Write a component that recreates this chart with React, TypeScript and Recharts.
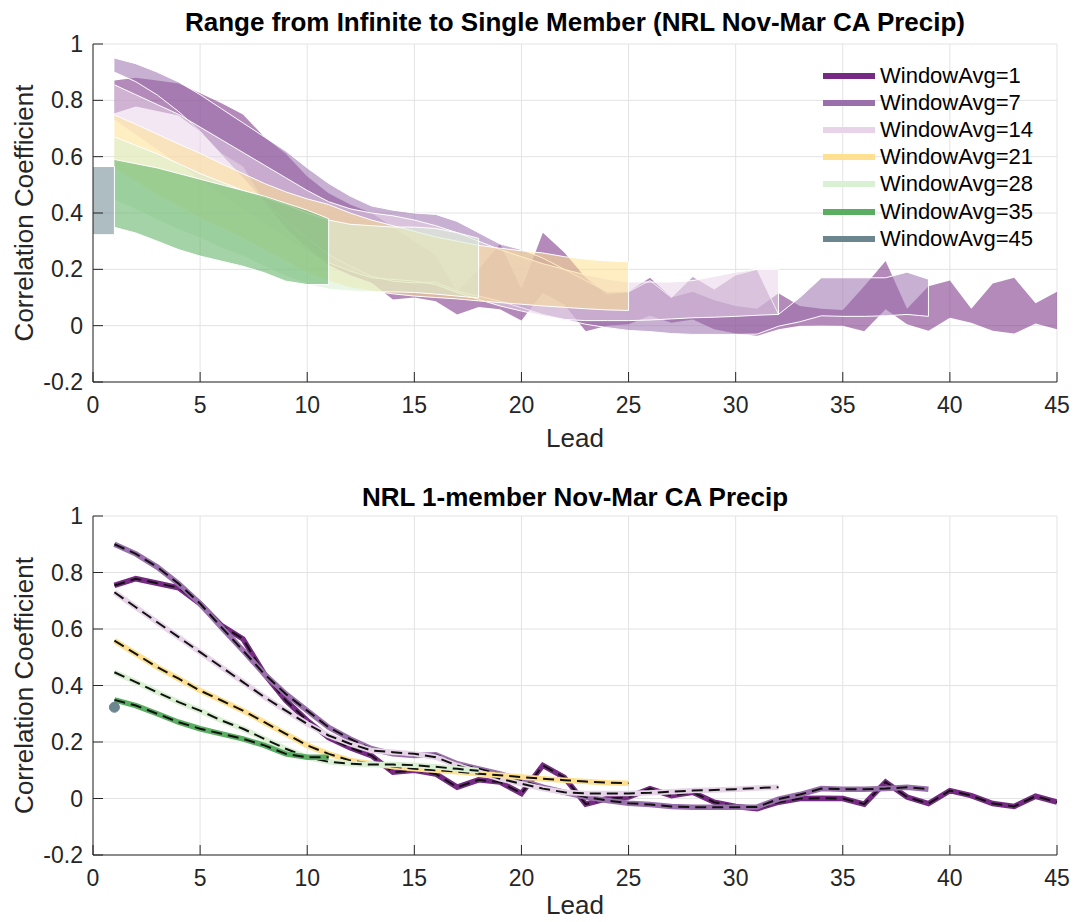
import React from 'react';
import {
  ComposedChart,
  Area,
  Line,
  XAxis,
  YAxis,
  CartesianGrid,
  ReferenceLine,
  Label,
} from 'recharts';

// lead axis
const leadTicks = [0, 5, 10, 15, 20, 25, 30, 35, 40, 45];
const corrTicks = [-0.2, 0, 0.2, 0.4, 0.6, 0.8, 1];

// single-member correlation, starting at lead 1
const single1 = [0.754, 0.778, 0.762, 0.746, 0.689, 0.612, 0.565, 0.441, 0.347, 0.276,
  0.215, 0.18, 0.152, 0.093, 0.1, 0.087, 0.04, 0.066, 0.058, 0.018,
  0.117, 0.075, -0.02, 0.0, 0.005, 0.035, 0.01, 0.022, -0.013, -0.028,
  -0.036, -0.013, 0.0, 0.001, 0.0, -0.02, 0.058, 0.005, -0.018, 0.028,
  0.01, -0.018, -0.028, 0.008, -0.013];
const single7 = [0.9, 0.866, 0.819, 0.76, 0.69, 0.606, 0.524, 0.44, 0.37, 0.311,
  0.252, 0.211, 0.176, 0.158, 0.152, 0.155, 0.123, 0.105, 0.087, 0.064,
  0.04, 0.022, 0.005, -0.007, -0.017, -0.021, -0.028, -0.031, -0.031, -0.031,
  -0.03, -0.002, 0.014, 0.035, 0.033, 0.033, 0.035, 0.04, 0.033];
const single14 = [0.73, 0.677, 0.624, 0.571, 0.518, 0.465, 0.412, 0.359, 0.311, 0.264,
  0.223, 0.194, 0.17, 0.164, 0.158, 0.146, 0.117, 0.093, 0.07, 0.052,
  0.035, 0.022, 0.018, 0.018, 0.018, 0.02, 0.024, 0.028, 0.03, 0.033,
  0.037, 0.04];
const single21 = [0.559, 0.512, 0.465, 0.424, 0.382, 0.347, 0.311, 0.27, 0.229, 0.188,
  0.158, 0.135, 0.123, 0.113, 0.105, 0.1, 0.095, 0.088, 0.082, 0.076,
  0.07, 0.065, 0.06, 0.056, 0.054];
const single28 = [0.447, 0.412, 0.376, 0.341, 0.311, 0.276, 0.247, 0.211, 0.176, 0.146,
  0.13, 0.123, 0.12, 0.12, 0.118, 0.112, 0.105, 0.098];
const single35 = [0.349, 0.329, 0.3, 0.27, 0.247, 0.229, 0.211, 0.188, 0.158, 0.146, 0.146];
const single45 = [0.323];

// infinite-ensemble correlation, starting at lead 1
const infinite1 = [0.87, 0.88, 0.87, 0.86, 0.825, 0.79, 0.75, 0.67, 0.61, 0.53,
  0.47, 0.43, 0.4, 0.35, 0.3, 0.25, 0.12, 0.2, 0.29, 0.13,
  0.33, 0.26, 0.17, 0.11, 0.12, 0.17, 0.1, 0.12, 0.09, 0.07,
  0.06, 0.115, 0.07, 0.06, 0.056, 0.14, 0.23, 0.06, 0.14, 0.16,
  0.06, 0.15, 0.17, 0.08, 0.12];
const infinite7 = [0.95, 0.93, 0.9, 0.865, 0.82, 0.77, 0.72, 0.67, 0.62, 0.56,
  0.505, 0.46, 0.425, 0.41, 0.4, 0.395, 0.37, 0.33, 0.29, 0.27,
  0.24, 0.2, 0.16, 0.12, 0.12, 0.16, 0.1, 0.175, 0.13, 0.18,
  0.2, 0.04, 0.1, 0.17, 0.17, 0.17, 0.17, 0.19, 0.165];
const infinite14 = [0.855, 0.82, 0.785, 0.75, 0.705, 0.66, 0.615, 0.57, 0.525, 0.48,
  0.44, 0.415, 0.4, 0.39, 0.375, 0.355, 0.33, 0.3, 0.27, 0.245,
  0.22, 0.2, 0.18, 0.165, 0.155, 0.155, 0.155, 0.16, 0.175, 0.19,
  0.2, 0.2];
const infinite21 = [0.748, 0.715, 0.68, 0.645, 0.612, 0.575, 0.54, 0.505, 0.475, 0.45,
  0.43, 0.4, 0.375, 0.355, 0.335, 0.315, 0.3, 0.285, 0.275, 0.266,
  0.258, 0.245, 0.236, 0.23, 0.227];
const infinite28 = [0.67, 0.64, 0.61, 0.575, 0.54, 0.51, 0.48, 0.455, 0.43, 0.4,
  0.375, 0.36, 0.355, 0.35, 0.35, 0.345, 0.33, 0.31];
const infinite35 = [0.59, 0.575, 0.56, 0.54, 0.52, 0.5, 0.48, 0.46, 0.435, 0.41, 0.38];
const infinite45 = [0.565];

const series = [
  { w: 1, color: '#762a83', single: single1, infinite: infinite1, edge: false },
  { w: 7, color: '#9970ab', single: single7, infinite: infinite7, edge: true },
  { w: 14, color: '#e7d4e8', single: single14, infinite: infinite14, edge: true },
  { w: 21, color: '#fee090', single: single21, infinite: infinite21, edge: true },
  { w: 28, color: '#d9f0d3', single: single28, infinite: infinite28, edge: true },
  { w: 35, color: '#5aae61', single: single35, infinite: infinite35, edge: true },
  { w: 45, color: '#6b868e', single: single45, infinite: infinite45, edge: true },
];

const data = Array.from({ length: 46 }, (_, lead) => {
  const row: any = { lead };
  series.forEach((s) => {
    const i = lead - 1;
    if (i >= 0 && i < s.single.length) {
      row[`s${s.w}`] = s.single[i];
      row[`b${s.w}`] = [s.single[i], s.infinite[i]];
    }
    // single-lead window is drawn as a block from lead 0
    if (lead === 0 && s.single.length === 1) {
      row[`b${s.w}`] = [s.single[0], s.infinite[0]];
    }
  });
  return row;
});

const font = '"Liberation Sans", Arial, Helvetica, sans-serif';
const axisColor = '#262626';
const tickStyle = { fontSize: 23, fill: axisColor };

const axes = (labelOffset: number) => [
  <CartesianGrid key="grid" stroke="#e3e3e3" />,
  <XAxis
    key="x"
    dataKey="lead"
    type="number"
    domain={[0, 45]}
    ticks={leadTicks}
    allowDataOverflow
    height={66}
    tickSize={-10}
    tickMargin={25}
    tick={tickStyle}
    stroke={axisColor}
  >
    <Label value="Lead" position="insideBottom" offset={labelOffset} style={{ fontSize: 26, fill: axisColor }} />
  </XAxis>,
  <XAxis
    key="xt"
    xAxisId="top"
    orientation="top"
    type="number"
    domain={[0, 45]}
    ticks={leadTicks}
    allowDataOverflow
    height={0}
    tickSize={-10}
    tick={false}
    stroke={axisColor}
  />,
  <YAxis
    key="y"
    type="number"
    domain={[-0.2, 1]}
    ticks={corrTicks}
    allowDataOverflow
    width={93}
    tickSize={-10}
    tickMargin={20}
    tick={tickStyle}
    stroke={axisColor}
  >
    <Label
      value="Correlation Coefficient"
      angle={-90}
      position="insideLeft"
      offset={24}
      style={{ fontSize: 26, fill: axisColor, textAnchor: 'middle' }}
    />
  </YAxis>,
  <YAxis
    key="yr"
    yAxisId="right"
    orientation="right"
    type="number"
    domain={[-0.2, 1]}
    ticks={corrTicks}
    allowDataOverflow
    width={0}
    tickSize={-10}
    tick={false}
    stroke={axisColor}
  />,
];

const titleStyle: React.CSSProperties = {
  position: 'absolute',
  left: 93,
  width: 964,
  textAlign: 'center',
  fontWeight: 'bold',
  fontSize: 26,
  lineHeight: '30px',
  color: '#000',
};

export default function App() {
  return (
    <div style={{ position: 'absolute', left: 0, top: 0, width: 1076, height: 922, background: '#fff', fontFamily: font }}>
      <div style={{ ...titleStyle, top: 7 }}>Range from Infinite to Single Member (NRL Nov-Mar CA Precip)</div>
      <div style={{ position: 'absolute', left: 0, top: 0 }}>
        <ComposedChart width={1076} height={461} data={data} margin={{ top: 44, right: 19, left: 0, bottom: 13 }}>
          {axes(1)}
          {series.map((s) => (
            <Area
              key={`b${s.w}`}
              dataKey={`b${s.w}`}
              type="linear"
              fill={s.color}
              fillOpacity={0.55}
              stroke={s.edge ? '#ffffff' : 'none'}
              strokeWidth={1}
              dot={false}
              activeDot={false}
              isAnimationActive={false}
            />
          ))}
          {series
            .filter((s) => s.edge)
            .map((s) => {
              const n = s.single.length;
              return (
                <ReferenceLine
                  key={`e${s.w}`}
                  segment={[
                    { x: n, y: s.single[n - 1] },
                    { x: n, y: s.infinite[n - 1] },
                  ]}
                  stroke="#ffffff"
                  strokeWidth={1}
                />
              );
            })}
        </ComposedChart>
      </div>
      <div style={{ position: 'absolute', left: 823, top: 62 }}>
        {series.map((s) => (
          <div key={`l${s.w}`} style={{ display: 'flex', alignItems: 'center', height: 27.2 }}>
            <div style={{ width: 52, height: 6, background: s.color }} />
            <span style={{ marginLeft: 5, fontSize: 22, lineHeight: '24px', color: '#000' }}>WindowAvg={s.w}</span>
          </div>
        ))}
      </div>

      <div style={{ ...titleStyle, top: 482 }}>NRL 1-member Nov-Mar CA Precip</div>
      <div style={{ position: 'absolute', left: 0, top: 461 }}>
        <ComposedChart width={1076} height={461} data={data} margin={{ top: 55, right: 19, left: 0, bottom: 1 }}>
          {axes(7)}
          {series.map((s) =>
            s.single.length > 1
              ? [
                  <Line
                    key={`s${s.w}`}
                    dataKey={`s${s.w}`}
                    type="linear"
                    stroke={s.color}
                    strokeWidth={5.5}
                    dot={false}
                    activeDot={false}
                    isAnimationActive={false}
                  />,
                  <Line
                    key={`d${s.w}`}
                    dataKey={`s${s.w}`}
                    type="linear"
                    stroke="#111111"
                    strokeWidth={2}
                    strokeDasharray="11 6"
                    dot={false}
                    activeDot={false}
                    isAnimationActive={false}
                  />,
                ]
              : (
                  <Line
                    key={`s${s.w}`}
                    dataKey={`s${s.w}`}
                    type="linear"
                    stroke={s.color}
                    strokeWidth={5}
                    dot={{ r: 5, fill: s.color, stroke: s.color, strokeWidth: 1 }}
                    activeDot={false}
                    isAnimationActive={false}
                  />
                )
          )}
        </ComposedChart>
      </div>
    </div>
  );
}
